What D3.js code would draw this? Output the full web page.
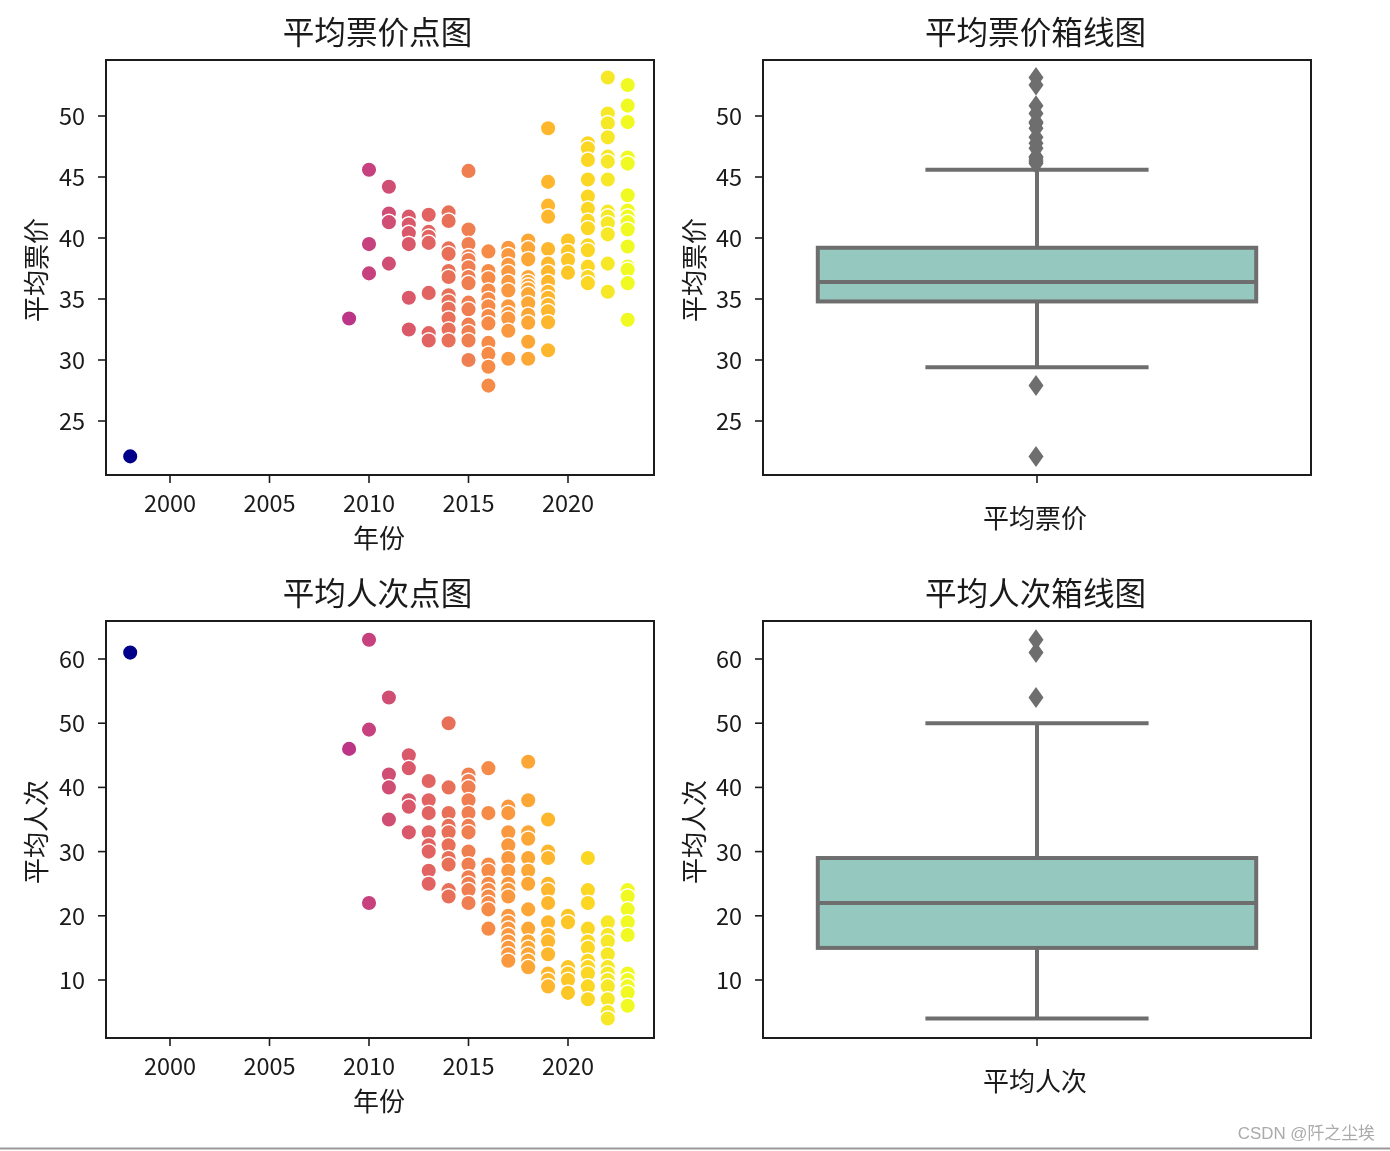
<!DOCTYPE html>
<html><head><meta charset="utf-8">
<script src="https://cdn.jsdelivr.net/npm/d3@7"></script>
<style>
html,body{margin:0;background:#fff;overflow:hidden}
svg{display:block;filter:blur(0.35px)}
text{font-family:"Noto Sans CJK SC","Noto Sans",sans-serif;fill:#1a1a1a}
</style></head><body>
<svg id="c" width="1390" height="1151"></svg>
<script>
const fareByYear = {
1998:[22.1],
2009:[33.4],
2010:[45.6,39.5,37.1],
2011:[44.2,42,41.3,37.9],
2012:[41.75,41.1,40.4,39.5,35.1,32.5],
2013:[41.9,40.5,40.1,39.6,35.5,32.2,31.6],
2014:[42.1,41.4,39.15,38.7,37.3,36.8,35.3,34.8,34.2,33.4,32.5,31.6],
2015:[45.5,40.7,39.5,38.5,38.2,37.6,36.8,36.3,34.7,34.15,32.9,32.3,31.6,30],
2016:[38.9,37.3,36.7,35.7,35,34.4,33.6,33,31.4,30.5,29.45,27.9],
2017:[39.2,38.6,37.8,37.2,36.4,35.7,34.4,33.8,33.4,32.4,30.1],
2018:[39.8,39.15,38.25,36.8,36.4,36.1,35.8,35.4,34.65,33.7,33.06,31.5,30.1],
2019:[49,44.6,42.65,41.75,39.1,37.9,37.2,36.4,35.6,35.1,34.5,34,33.1,30.8],
2020:[39.8,38.9,38.2,37.16],
2021:[47.76,47.35,46.4,44.8,43.4,42.4,41.4,40.8,39.4,39,37.65,36.8,36.3],
2022:[53.15,50.2,49.4,48.25,46.67,46.26,44.8,42.16,41.75,41.2,40.3,37.9,35.6],
2023:[52.54,50.85,49.5,46.6,46.1,43.5,42.25,41.75,41.3,40.7,39.3,37.65,37.4,36.3,33.3]
};
const viewersByYear = {
1998:[61],
2009:[46],
2010:[63,49,22],
2011:[54,42,40,35],
2012:[45,43,38,37,33],
2013:[41,38,36,33,31,30,27,25],
2014:[50,40,36,34,33,31,29,28,24,23],
2015:[42,41,40,38,36,34,33,30,28,26,25,24,22],
2016:[43,36,28,27,25,24,23,22,21,18],
2017:[37,36,33,31,29,27,25,24,23,20,19,18,17,16,15,14,13],
2018:[44,38,33,32,29,27,25,21,18,16,15,14,13,12],
2019:[35,30,29,25,24,22,19,17,16,14,11,10,9],
2020:[20,19,12,11,10,8],
2021:[29,24,22,18,16,15,13,12,11,9,7],
2022:[19,17,16,14,12,11,10,9,7,5,4],
2023:[24,23,21,19,17,11,10,9,8,6]
};
const fareBox = {low:29.4, q1:34.8, median:36.4, q3:39.2, high:45.6};
const viewersBox = {low:4, q1:15, median:22, q3:29, high:50};
const fareTicks = [25,30,35,40,45,50];
const viewerTicks = [10,20,30,40,50,60];
const yearTicks = [2000,2005,2010,2015,2020];

const svg = d3.select("#c");
const LINE="#6e6e6e", BOXFILL="#95c9bf", AX="#1c1c1c";
const col = d3.scaleSequential(d3.interpolatePlasma).domain([1998,2023]);
const flat = o => Object.entries(o).flatMap(([y,a])=>a.map(v=>({year:+y,v})));

const xYear = (l,r)=>{const s=d3.scaleLinear().domain([2000,2020]).range([170,568]);
  return s.copy().domain([s.invert(l),s.invert(r)]).range([l,r]);};

function frame(g,L,R,T,B,title,ticks,y,tx){
  g.append("rect").attr("x",L).attr("y",T).attr("width",R-L).attr("height",B-T)
   .attr("fill","none").attr("stroke",AX).attr("stroke-width",2);
  g.append("text").attr("x",tx).attr("y",T-16).attr("text-anchor","middle")
   .attr("font-size",31.6).text(title);
  ticks.forEach(t=>{
    g.append("line").attr("x1",L-8).attr("x2",L).attr("y1",y(t)).attr("y2",y(t)).attr("stroke",AX).attr("stroke-width",1.6);
    g.append("text").attr("x",L-21).attr("y",y(t)+9).attr("text-anchor","end").attr("font-size",23.5).text(t);
  });
}
function ylab(g,x,y,t){g.append("text").attr("transform",`translate(${x},${y}) rotate(-90)`).attr("text-anchor","middle").attr("font-size",26).text(t);}

function scatter(L,R,T,B,title,data,yLabel,y,ticks){
  const g=svg.append("g"), x=xYear(L,R);
  g.selectAll("circle").data(flat(data)).join("circle")
    .attr("cx",d=>x(d.year)).attr("cy",d=>y(d.v)).attr("r",7.8)
    .attr("fill",d=>d.year===1998?"#00008b":col(d.year)).attr("stroke","#fff").attr("stroke-width",1.5);
  frame(g,L,R,T,B,title,ticks,y,377.5);
  yearTicks.forEach(t=>{
    g.append("line").attr("x1",x(t)).attr("x2",x(t)).attr("y1",B).attr("y2",B+8).attr("stroke",AX).attr("stroke-width",1.6);
    g.append("text").attr("x",x(t)).attr("y",B+37).attr("text-anchor","middle").attr("font-size",23.5).text(t);
  });
  g.append("text").attr("x",(L+R)/2-1).attr("y",B+73).attr("text-anchor","middle").attr("font-size",26).text("年份");
  ylab(g,46,(T+B)/2+2.5,yLabel);
}
function box(L,R,T,B,title,data,s,label,y,ticks){
  const g=svg.append("g");
  const band=d3.scaleBand().domain([label]).range([L,R]);
  const cx=band(label)+band.bandwidth()/2;
  const w=band.bandwidth()*0.8, cap=w*0.5;
  const fl=Object.values(data).flat().filter(v=>v>s.high||v<s.low);
  const st=(sel)=>sel.attr("stroke",LINE).attr("stroke-width",4);
  st(g.append("line").attr("x1",cx).attr("x2",cx).attr("y1",y(s.high)).attr("y2",y(s.q3)));
  st(g.append("line").attr("x1",cx).attr("x2",cx).attr("y1",y(s.q1)).attr("y2",y(s.low)));
  st(g.append("line").attr("x1",cx-cap/2).attr("x2",cx+cap/2).attr("y1",y(s.high)).attr("y2",y(s.high)).attr("stroke-linecap","square"));
  st(g.append("line").attr("x1",cx-cap/2).attr("x2",cx+cap/2).attr("y1",y(s.low)).attr("y2",y(s.low)).attr("stroke-linecap","square"));
  st(g.append("rect").attr("x",cx-w/2).attr("width",w).attr("y",y(s.q3)).attr("height",y(s.q1)-y(s.q3)).attr("fill",BOXFILL));
  st(g.append("line").attr("x1",cx-w/2).attr("x2",cx+w/2).attr("y1",y(s.median)).attr("y2",y(s.median)));
  g.selectAll("path.f").data(fl).join("path").attr("class","f")
    .attr("d","M0,-10.5L7.5,0L0,10.5L-7.5,0Z").attr("fill",LINE)
    .attr("transform",v=>`translate(${cx-1},${y(v)})`);
  frame(g,L,R,T,B,title,ticks,y,1035.5);
  g.append("line").attr("x1",cx).attr("x2",cx).attr("y1",B).attr("y2",B+8).attr("stroke",AX).attr("stroke-width",1.6);
  g.append("text").attr("x",cx-2).attr("y",B+52.5).attr("text-anchor","middle").attr("font-size",26).text(label);
  ylab(g,704,(T+B)/2+2.5,label);
}
const scaleFrom=(a,pa,b,pb,T,B)=>{const s=d3.scaleLinear().domain([a,b]).range([pa,pb]);
  return s.copy().domain([s.invert(B),s.invert(T)]).range([B,T]);};
const yFare=scaleFrom(25,421,50,116,60,475);
const yView=scaleFrom(10,980,60,659,621,1038);

scatter(106,654,60,475,"平均票价点图",fareByYear,"平均票价",yFare,fareTicks);
box(763,1311,60,475,"平均票价箱线图",fareByYear,fareBox,"平均票价",yFare,fareTicks);
scatter(106,654,621,1038,"平均人次点图",viewersByYear,"平均人次",yView,viewerTicks);
box(763,1311,621,1038,"平均人次箱线图",viewersByYear,viewersBox,"平均人次",yView,viewerTicks);

svg.append("text").attr("x",1375).attr("y",1139).attr("text-anchor","end").attr("font-size",16.9)
  .style("font-family",'"Liberation Sans","Noto Sans CJK SC",sans-serif').style("fill","#aaaaaa").text("CSDN @阡之尘埃");
svg.append("line").attr("x1",0).attr("x2",1390).attr("y1",1148.5).attr("y2",1148.5).attr("stroke","#999").attr("stroke-width",2);
</script></body></html>
